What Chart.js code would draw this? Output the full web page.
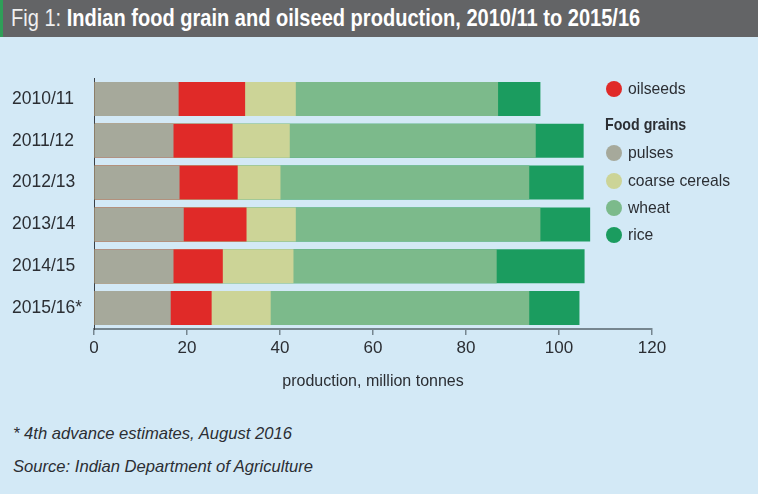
<!DOCTYPE html>
<html>
<head>
<meta charset="utf-8">
<script src="https://cdn.jsdelivr.net/npm/chart.js@4"></script>
<style>
  html, body { margin: 0; padding: 0; }
  body { width: 758px; height: 494px; background: #d3e9f6; position: relative; overflow: hidden; font-family: "Liberation Sans", Arial, sans-serif; color: #2b2e33; }
  #titlebar { position: absolute; left: 0; top: 0; width: 758px; height: 37px; background: #636466; }
  #titlebar .strip { position: absolute; left: 0; top: 0; width: 3px; height: 37px; background: #2f9f58; }
  #titlebar .txt { position: absolute; left: 11px; top: 4px; font-family: "Liberation Sans", sans-serif; font-size: 24px; color: #fff; white-space: nowrap; line-height: 28px; transform: scaleX(0.835); transform-origin: 0 50%; }
  #titlebar .txt .light { font-weight: normal; color: #f0f0f0; }
  #titlebar .txt b { font-weight: bold; }
  #chartbox { position: absolute; left: 0; top: 0; width: 758px; height: 400px; }
  #legend { position: absolute; left: 0; top: 0; }
  .li { position: absolute; white-space: nowrap; font-size: 15.7px; line-height: 20px; }
  .dot { position: absolute; width: 16px; height: 16px; border-radius: 50%; }
  .lh { position: absolute; white-space: nowrap; font-family: "Liberation Sans", sans-serif; font-weight: bold; font-size: 17px; line-height: 20px; transform: scaleX(0.835); transform-origin: 0 50%; }
  .note { position: absolute; left: 13px; font-style: italic; font-size: 16.6px; white-space: nowrap; line-height: 20px; }
</style>
</head>
<body>
<div id="titlebar"><div class="strip"></div><div class="txt"><span class="light">Fig 1: </span><b>Indian food grain and oilseed production, 2010/11 to 2015/16</b></div></div>
<div id="chartbox"><canvas id="c"></canvas></div>
<div id="legend"></div>
<div class="note" style="top:424px;">* 4th advance estimates, August 2016</div>
<div class="note" style="top:457px;">Source: Indian Department of Agriculture</div>
<script>
// Data (million tonnes); bars overlap from zero
const categories = ["2010/11", "2011/12", "2012/13", "2013/14", "2014/15", "2015/16*"];
const pulses        = [18.2, 17.1, 18.4, 19.3, 17.1, 16.5];
const oilseeds      = [32.5, 29.8, 30.9, 32.8, 27.7, 25.3];
const coarseCereals = [43.4, 42.1, 40.1, 43.4, 42.9, 38.0];
const wheat         = [86.9, 95.0, 93.6, 96.0, 86.6, 93.6];
const rice          = [96.0, 105.3, 105.3, 106.7, 105.5, 104.4];
const xTicks = [0, 20, 40, 60, 80, 100, 120];

const colors = {
  pulses: "#a6a99b",
  oilseeds: "#e02a28",
  coarse: "#ccd497",
  wheat: "#7cba8b",
  rice: "#1b9c5f"
};

const textColor = "#2b2e33";

// First dataset is drawn on top
const datasets = [
  { label: "pulses", data: pulses, backgroundColor: colors.pulses },
  { label: "oilseeds", data: oilseeds, backgroundColor: colors.oilseeds },
  { label: "coarse cereals", data: coarseCereals, backgroundColor: colors.coarse },
  { label: "wheat", data: wheat, backgroundColor: colors.wheat },
  { label: "rice", data: rice, backgroundColor: colors.rice }
].map(d => Object.assign(d, { borderWidth: 0, grouped: false, categoryPercentage: 0.813, barPercentage: 1 }));

new Chart(document.getElementById("c"), {
  type: "bar",
  data: { labels: categories, datasets: datasets },
  options: {
    indexAxis: "y",
    responsive: true,
    maintainAspectRatio: false,
    animation: false,
    layout: { padding: { top: 78, left: 12, right: 106, bottom: 0 } },
    plugins: { legend: { display: false }, tooltip: { enabled: false } },
    scales: {
      x: {
        type: "linear",
        min: 0, max: 120,
        stacked: false,
        afterBuildTicks: s => { s.ticks = xTicks.map(v => ({ value: v })); },
        afterFit: s => { s.height = 71; },
        border: { display: true, color: "#76868f", width: 2 },
        grid: { display: true, drawOnChartArea: false, drawTicks: true, tickLength: 6, color: "#76868f", lineWidth: 1.5 },
        ticks: { color: textColor, font: { family: "Liberation Sans", size: 17 }, padding: 3 },
        title: { display: true, text: "production, million tonnes", color: textColor, font: { family: "Liberation Sans", size: 16 }, padding: { top: 0, bottom: 9 } }
      },
      y: {
        stacked: false,
        offset: true,
        afterFit: s => { s.width = 82; },
        border: { display: true, color: "#3a3f45", width: 1 },
        grid: { display: false },
        ticks: { color: textColor, crossAlign: "far", font: { family: "Liberation Sans", size: 17.5 } }
      }
    }
  }
});

// Legend (HTML), built from the dataset definitions
const legend = document.getElementById("legend");
function addItem(label, color, cy) {
  const dot = document.createElement("div");
  dot.className = "dot";
  dot.style.left = (614 - 8) + "px";
  dot.style.top = (cy - 8) + "px";
  dot.style.background = color;
  legend.appendChild(dot);
  const t = document.createElement("div");
  t.className = "li";
  t.style.left = "628px";
  t.style.top = (cy - 10) + "px";
  t.textContent = label;
  legend.appendChild(t);
}
const legendRows = [89, 153, 181, 208, 235];
addItem("oilseeds", colors.oilseeds, legendRows[0]);
const hdr = document.createElement("div");
hdr.className = "lh";
hdr.style.left = "605px";
hdr.style.top = (125 - 10) + "px";
hdr.textContent = "Food grains";
legend.appendChild(hdr);
addItem("pulses", colors.pulses, legendRows[1]);
addItem("coarse cereals", colors.coarse, legendRows[2]);
addItem("wheat", colors.wheat, legendRows[3]);
addItem("rice", colors.rice, legendRows[4]);
</script>
</body>
</html>
